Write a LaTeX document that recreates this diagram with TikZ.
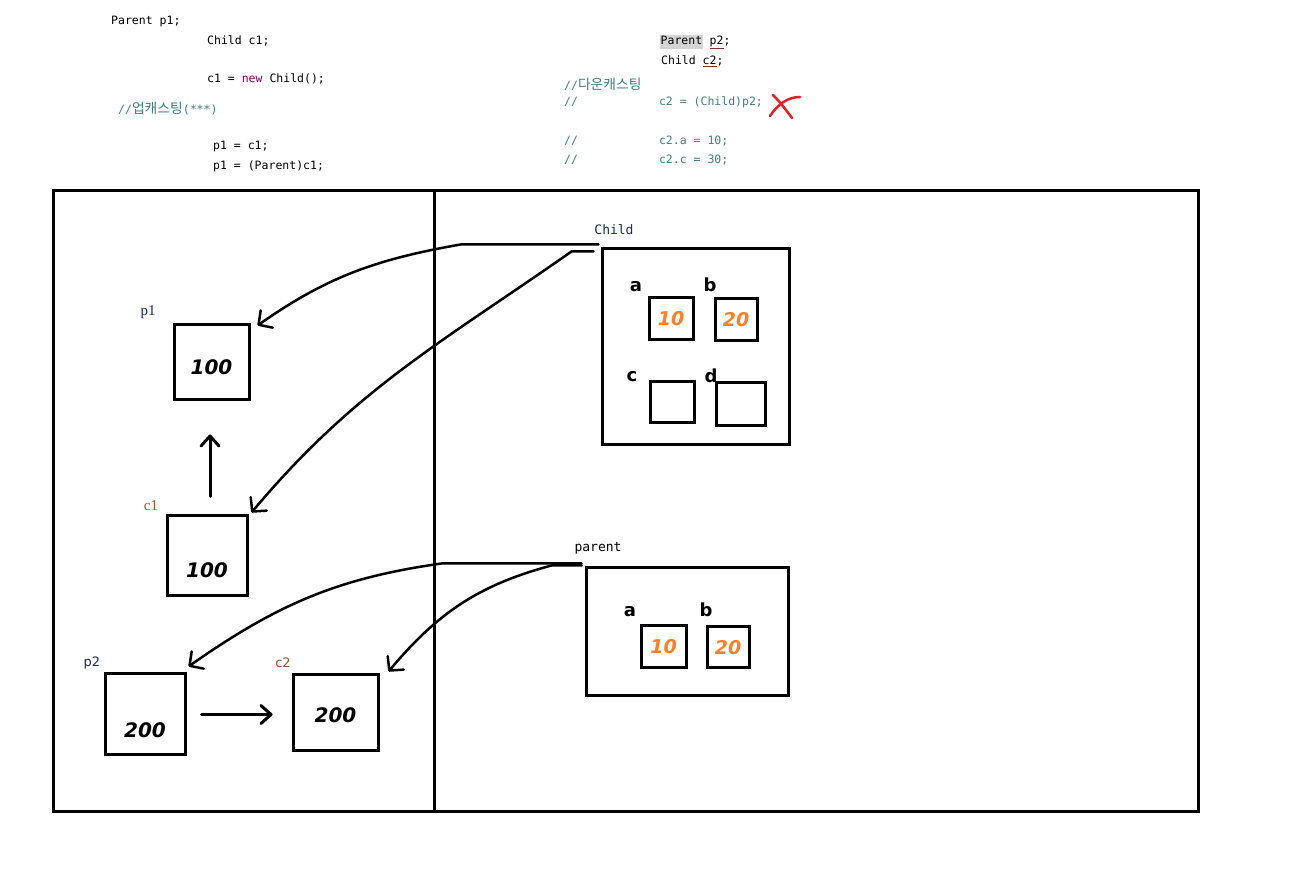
\documentclass[tikz,border=0pt]{standalone}
\usepackage{fontspec}
\usepackage{xcolor}
\usepackage{tikz}
\usetikzlibrary{arrows.meta, positioning}

\newfontfamily\codefont{DejaVu Sans Mono}
\newfontfamily\krfont[Scale=1.2]{Noto Sans CJK KR}
\newfontfamily\handfont{DejaVu Sans}
\newfontfamily\seriflbl{Liberation Serif}
\newfontfamily\sanslbl{DejaVu Sans}

\definecolor{comment}{HTML}{3F7F7F}
\definecolor{keyword}{HTML}{7F0055}
\definecolor{paintorange}{HTML}{FF7F27}
\definecolor{paintred}{HTML}{ED1C24}
\definecolor{hlgray}{HTML}{D4D4D4}
\definecolor{ulred}{HTML}{8B2A2A}
\definecolor{lblnavy}{HTML}{1A2A5A}
\definecolor{lblbrown}{HTML}{A0522D}

\newcommand\hlbox[1]{{\setlength\fboxsep{0.5pt}\colorbox{hlgray}{\strut #1}}}
\newcommand\errul[1]{\textcolor{ulred}{\underline{\textcolor{black}{#1}}}}
\newcommand\handat[2]{\raisebox{#1}[0pt][0pt]{#2}}

\begin{document}
\begin{tikzpicture}[x=1pt, y=1pt,
    code/.style={font=\codefont\fontsize{11.5}{13}\selectfont, anchor=west, inner sep=0pt},
    cmt/.style={code, text=comment},
    memory/.style={draw, line width=3pt, inner sep=0pt, font=\handfont\bfseries\itshape\fontsize{20}{20}\selectfont},
    field/.style={draw, line width=3pt, inner sep=0pt, text=paintorange, font=\handfont\bfseries\itshape\fontsize{19}{19}\selectfont},
    fieldname/.style={inner sep=0pt, font=\handfont\bfseries\fontsize{18}{18}\selectfont},
    varname/.style={inner sep=0pt, font=\seriflbl\fontsize{15}{15}\selectfont},
    classname/.style={inner sep=0pt, font=\codefont\fontsize{13}{13}\selectfont},
    link/.style={line width=2.5pt, line cap=round, -{Straight Barb[length=10pt,width=21pt,round]}},
    assign/.style={line width=3pt, line cap=round, -{Straight Barb[length=10pt,width=18pt,round]}}]

    \useasboundingbox (0,0) rectangle (1314,894);

    % code on the left
    \node[code] (l1) at (111,872) {Parent p1;};
    \node[code] (l2) at (207,853) {Child c1;};
    \node[code] (l3) at (207,815) {c1 = \textcolor{keyword}{new} Child();};
    \node[cmt] (l4) at (118,785) {//{\krfont 업캐스팅}(***)};
    \node[code] (l5) at (213,747) {p1 = c1;};
    \node[code] (l6) at (213,728) {p1 = (Parent)c1;};

    % code on the right
    \node[code] (r1) at (660,852) {\hlbox{Parent} \errul{p2};};
    \node[code] (r2) at (661,833) {Child \errul{c2};};
    \node[cmt] (r3) at (564,810) {//{\krfont 다운캐스팅}};
    \node[cmt] (r4) at (564,792) {//\hspace{81pt}c2 = (Child)p2;};
    \node[cmt] (r5) at (564,753) {//\hspace{81pt}c2.a = 10;};
    \node[cmt] (r6) at (564,734) {//\hspace{81pt}c2.c = 30;};

    % red cross
    \draw[paintred, line width=2.5pt, line cap=round] (773,799) .. controls (780,792) and (786,784) .. (792,776);
    \draw[paintred, line width=2.5pt, line cap=round] (800,797) .. controls (788,797) and (778,790) .. (770,778);

    % stack and heap
    \draw[line width=3pt] (53,82) rectangle (1198,703);
    \draw[line width=3pt] (434,82) -- (434,703);

    % variables
    \node[memory, minimum width=75pt, minimum height=75pt] (p1) at (211.5,531.5) {\handat{-12pt}{100}};
    \node[memory, minimum width=80pt, minimum height=80pt] (c1) at (207,338) {\handat{-22pt}{100}};
    \node[memory, minimum width=80pt, minimum height=81pt] (p2) at (145,179.5) {\handat{-23pt}{200}};
    \node[memory, minimum width=85pt, minimum height=76pt] (c2) at (335.5,181) {\handat{-10pt}{200}};

    \node[varname, text=lblnavy] (p1name) at (148,582) {p1};
    \node[varname, text=lblbrown] (c1name) at (151,388) {c1};
    \node[varname, font=\sanslbl\fontsize{13}{13}\selectfont, text=lblnavy] (p2name) at (92,231) {p2};
    \node[varname, font=\sanslbl\fontsize{13}{13}\selectfont, text=lblbrown] (c2name) at (283,231) {c2};

    % objects
    \node[draw, line width=3pt, minimum width=187pt, minimum height=196pt] (child) at (695.5,547) {};
    \node[classname, text=lblnavy] (childname) at (614,664) {Child};
    \node[field, minimum width=44pt, minimum height=42pt] (ca) at (671,575) {10};
    \node[field, minimum width=42pt, minimum height=42pt] (cb) at (736,574) {20};
    \node[field, minimum width=44pt, minimum height=41pt] (cc) at (672,491.5) {};
    \node[field, minimum width=49pt, minimum height=43pt] (cd) at (740.5,489.5) {};
    \node[fieldname] (caname) at (636,607) {a};
    \node[fieldname] (cbname) at (710,609) {b};
    \node[fieldname] (ccname) at (632,517) {c};
    \node[fieldname] (cdname) at (711,518) {d};

    \node[draw, line width=3pt, minimum width=202pt, minimum height=128pt] (parent) at (687,262) {};
    \node[classname] (parentname) at (598,346) {parent};
    \node[field, minimum width=45pt, minimum height=42pt] (pa) at (663.5,247) {10};
    \node[field, minimum width=42pt, minimum height=41pt] (pb) at (728,246.5) {20};
    \node[fieldname] (paname) at (630,282) {a};
    \node[fieldname] (pbname) at (706,284) {b};

    % references
    \draw[link] ([xshift=-2pt,yshift=3pt]child.north west) -- ++(-138,0)
        to[out=190,in=35] ([xshift=7pt,yshift=-2pt]p1.north east);
    \draw[link] ([xshift=-7pt,yshift=-4pt]child.north west) -- ++(-22,0)
        to[out=215,in=50] ([xshift=3pt,yshift=2pt]c1.north east);
    \draw[link] ([xshift=-3pt,yshift=3pt]parent.north west) -- ++(-140,0)
        to[out=188,in=35] ([xshift=2pt,yshift=6pt]p2.north east);
    \draw[link] ([xshift=-3pt,yshift=1pt]parent.north west) -- ++(-30,0)
        to[out=195,in=50] ([xshift=9pt,yshift=2pt]c2.north east);

    \path[assign]
        ([xshift=3pt]c1.north) edge[shorten <=18pt, shorten >=33pt] ([xshift=3pt]c1.north |- p1.south)
        (p2.east) edge[shorten <=15pt, shorten >=19pt] (p2.east -| c2.west);

\end{tikzpicture}
\end{document}
